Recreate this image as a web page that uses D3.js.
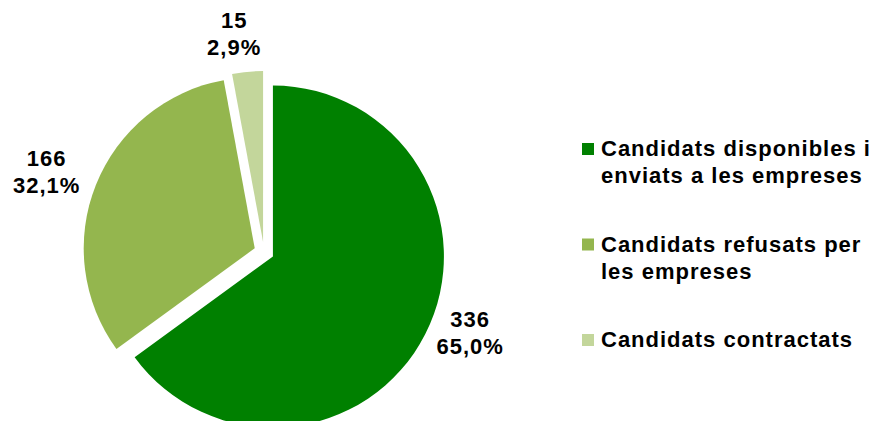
<!DOCTYPE html>
<html><head><meta charset="utf-8">
<script src="https://cdn.jsdelivr.net/npm/d3@7"></script>
<style>
html,body{margin:0;padding:0;background:#fff;}
text{font-family:"Liberation Sans",Arial,sans-serif;font-weight:bold;fill:#000;}
</style></head>
<body><svg id="c" width="874" height="421"></svg>
<script>
const categories = ["Candidats disponibles i enviats a les empreses","Candidats refusats per les empreses","Candidats contractats"];
const legendLines = [["Candidats disponibles i","enviats a les empreses"],["Candidats refusats per","les empreses"],["Candidats contractats"]];
const values = [336, 166, 15];
const colors = ["#008000", "#94B64E", "#C3D69B"];

// layout
const cx = 264, cy = 252, R = 171, explode = 10;
const labelAngleShift = [-5.5, -1.6, -2.7]; // degrees relative to slice mid-angle
const labelRadius = [221, 232, 220];
const fs = 22, ls = 1, lineGap = 27;

const svg = d3.select("#c");
const total = d3.sum(values);
const pie = d3.pie().sort(null).value(d => d).startAngle(0).endAngle(2*Math.PI);
const arcs = pie(values);
const arc = d3.arc().innerRadius(0).outerRadius(R);
const g = svg.append("g").attr("transform", `translate(${cx},${cy})`);

g.selectAll("path").data(arcs).enter().append("path")
  .attr("d", arc)
  .attr("fill", (d,i) => colors[i])
  .attr("transform", d => {
    const a = (d.startAngle + d.endAngle)/2;
    return `translate(${explode*Math.sin(a)},${-explode*Math.cos(a)})`;
  });

const fmt = v => (v/total*100).toFixed(1).replace(".", ",") + "%";
arcs.forEach((d,i) => {
  const a = (d.startAngle + d.endAngle)/2 + labelAngleShift[i]*Math.PI/180;
  const x = labelRadius[i]*Math.sin(a), y = -labelRadius[i]*Math.cos(a);
  const t = g.append("text").attr("text-anchor","middle")
    .style("font-size", fs+"px").style("letter-spacing", ls+"px");
  t.append("tspan").attr("x", x + ls/2).attr("y", y - 6).text(values[i]);
  t.append("tspan").attr("x", x + ls/2).attr("y", y + 21).text(fmt(values[i]));
});

// legend
const lx = 582, ly0 = 156, lstep = 95.5;
legendLines.forEach((lines, i) => {
  const by = ly0 + i*lstep;
  svg.append("rect").attr("x", lx).attr("y", by - 13).attr("width", 12).attr("height", 12).attr("fill", colors[i]);
  const t = svg.append("text").style("font-size", fs+"px").style("letter-spacing", ls+"px");
  lines.forEach((ln, j) => {
    t.append("tspan").attr("x", lx + 19).attr("y", by + j*lineGap).text(ln);
  });
});
</script></body></html>
